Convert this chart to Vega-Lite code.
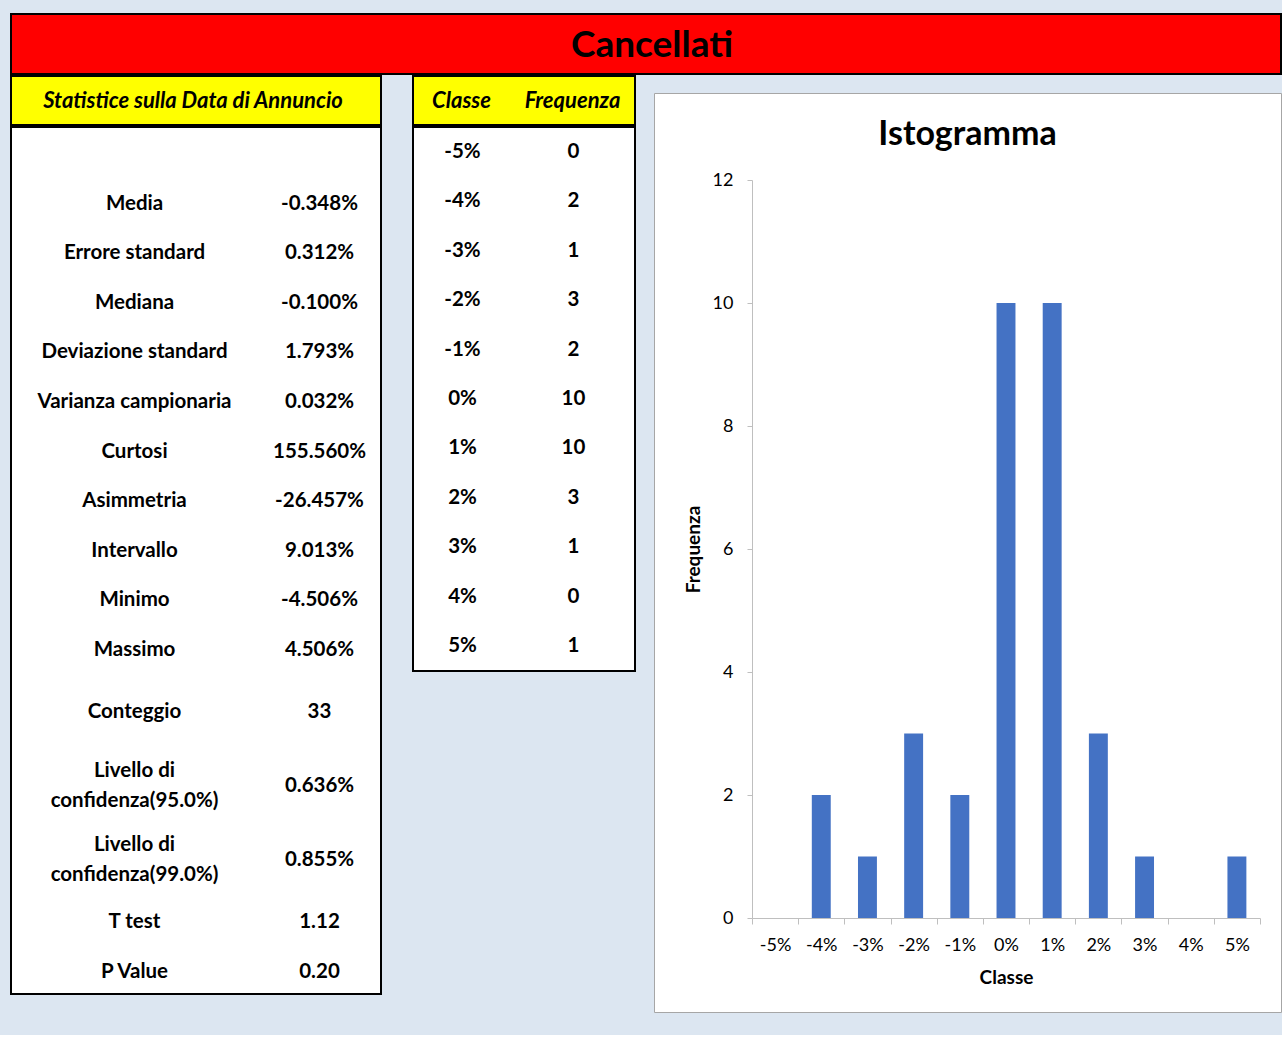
{
  "$schema": "https://vega.github.io/schema/vega-lite/v6.json",
  "background": "#dce6f1",
  "padding": {"left": 10, "top": 13, "right": 0, "bottom": 22},
  "config": {
    "font": "Lato",
    "view": {"stroke": null},
    "text": {"color": "#000000"}
  },
  "datasets": {
    "frequenze": [
      {"classe": "-5%", "frequenza": 0},
      {"classe": "-4%", "frequenza": 2},
      {"classe": "-3%", "frequenza": 1},
      {"classe": "-2%", "frequenza": 3},
      {"classe": "-1%", "frequenza": 2},
      {"classe": "0%", "frequenza": 10},
      {"classe": "1%", "frequenza": 10},
      {"classe": "2%", "frequenza": 3},
      {"classe": "3%", "frequenza": 1},
      {"classe": "4%", "frequenza": 0},
      {"classe": "5%", "frequenza": 1}
    ],
    "statistiche": [
      {"statistica": "Media", "valore": "-0.348%", "riga": 1.5},
      {"statistica": "Errore standard", "valore": "0.312%", "riga": 2.5},
      {"statistica": "Mediana", "valore": "-0.100%", "riga": 3.5},
      {"statistica": "Deviazione standard", "valore": "1.793%", "riga": 4.5},
      {"statistica": "Varianza campionaria", "valore": "0.032%", "riga": 5.5},
      {"statistica": "Curtosi", "valore": "155.560%", "riga": 6.5},
      {"statistica": "Asimmetria", "valore": "-26.457%", "riga": 7.5},
      {"statistica": "Intervallo", "valore": "9.013%", "riga": 8.5},
      {"statistica": "Minimo", "valore": "-4.506%", "riga": 9.5},
      {"statistica": "Massimo", "valore": "4.506%", "riga": 10.5},
      {"statistica": "Conteggio", "valore": "33", "riga": 11.75},
      {"statistica": "Livello di\nconfidenza(95.0%)", "valore": "0.636%", "riga": 13.25},
      {"statistica": "Livello di\nconfidenza(99.0%)", "valore": "0.855%", "riga": 14.75},
      {"statistica": "T test", "valore": "1.12", "riga": 16},
      {"statistica": "P Value", "valore": "0.20", "riga": 17}
    ]
  },
  "spacing": 0,
  "vconcat": [
    {
      "width": 1270,
      "height": 60,
      "view": {"fill": "#ff0000", "stroke": "#000000", "strokeWidth": 2},
      "data": {"values": [{"titolo": "Cancellati"}]},
      "mark": {"type": "text", "fontSize": 37, "fontWeight": "bold", "baseline": "middle", "dx": 6, "dy": 2},
      "encoding": {"text": {"field": "titolo", "type": "nominal"}}
    },
    {
      "spacing": 30,
      "hconcat": [
        {
          "spacing": 0,
          "vconcat": [
            {
              "width": 370,
              "height": 49,
              "view": {"fill": "#ffff00", "stroke": "#000000", "strokeWidth": 2},
              "data": {"values": [{"intestazione": "Statistice sulla Data di Annuncio"}]},
              "mark": {"type": "text", "fontSize": 22, "fontWeight": "bold", "fontStyle": "italic", "baseline": "middle", "dx": -3},
              "encoding": {"text": {"field": "intestazione", "type": "nominal"}}
            },
            {
              "width": 370,
              "height": 867,
              "view": {"fill": "#ffffff", "stroke": "#000000", "strokeWidth": 2},
              "data": {"name": "statistiche"},
              "transform": [{"fold": ["statistica", "valore"], "as": ["colonna", "testo"]}],
              "encoding": {
                "x": {"field": "colonna", "type": "nominal", "scale": {"domain": ["statistica", "valore"]}, "axis": null},
                "y": {"field": "riga", "type": "quantitative", "scale": {"domain": [-0.05, 17.45], "reverse": true}, "axis": null},
                "text": {"field": "testo", "type": "nominal"}
              },
              "layer": [
                {
                  "transform": [{"filter": "indexof(datum.testo, '\\n') < 0"}],
                  "mark": {"type": "text", "fontSize": 20.5, "fontWeight": "bold", "baseline": "middle", "dx": 31}
                },
                {
                  "transform": [{"filter": "indexof(datum.testo, '\\n') >= 0"}],
                  "mark": {"type": "text", "fontSize": 20.5, "fontWeight": "bold", "baseline": "middle", "lineBreak": "\n", "lineHeight": 30, "dx": 31, "dy": -15}
                }
              ]
            }
          ]
        },
        {
          "spacing": 17,
          "hconcat": [
            {
              "spacing": 0,
              "vconcat": [
                {
                  "width": 222,
                  "height": 49,
                  "view": {"fill": "#ffff00", "stroke": "#000000", "strokeWidth": 2},
                  "data": {"values": [{"colonna": "Classe"}, {"colonna": "Frequenza"}]},
                  "mark": {"type": "text", "fontSize": 22, "fontWeight": "bold", "fontStyle": "italic", "baseline": "middle", "dx": -7},
                  "encoding": {
                    "x": {"field": "colonna", "type": "nominal", "axis": null},
                    "text": {"field": "colonna", "type": "nominal"}
                  }
                },
                {
                  "width": 222,
                  "height": 544,
                  "view": {"fill": "#ffffff", "stroke": "#000000", "strokeWidth": 2},
                  "data": {"name": "frequenze"},
                  "transform": [{"fold": ["classe", "frequenza"], "as": ["colonna", "testo"]}],
                  "mark": {"type": "text", "fontSize": 20.5, "fontWeight": "bold", "baseline": "middle", "dx": -6},
                  "encoding": {
                    "x": {"field": "colonna", "type": "nominal", "scale": {"domain": ["classe", "frequenza"]}, "axis": null},
                    "y": {"field": "classe", "type": "ordinal", "sort": null, "axis": null},
                    "text": {"field": "testo", "type": "nominal"}
                  }
                }
              ]
            },
            {
              "spacing": 15,
              "vconcat": [
                {
                  "width": 627,
                  "height": 1,
                  "view": {"fill": "transparent", "stroke": null},
                  "data": {"values": []},
                  "mark": "rect",
                  "encoding": {}
                },
                {
                  "width": 627,
                  "height": 919,
                  "view": {"fill": "#ffffff", "stroke": "#a6a6a6", "strokeWidth": 1},
                  "title": {"text": "Istogramma", "fontSize": 34, "fontWeight": "bold", "color": "#000000", "anchor": "middle", "offset": -86, "baseline": "alphabetic"},
                  "data": {"name": "frequenze"},
                  "mark": {"type": "bar", "color": "#4472c4", "width": {"band": 0.41}},
                  "encoding": {
                    "x": {
                      "field": "classe", "type": "ordinal", "sort": null,
                      "scale": {"range": [98, 606], "paddingInner": 0, "paddingOuter": 0},
                      "axis": {
                        "title": "Classe", "offset": -94, "labelAngle": 0, "tickBand": "extent",
                        "tickSize": 6, "domainColor": "#bfbfbf", "tickColor": "#bfbfbf",
                        "labelFontSize": 18, "labelColor": "#000000", "labelPadding": 12,
                        "titleFontSize": 19, "titleFontWeight": "bold", "titleColor": "#000000", "titlePadding": 14
                      }
                    },
                    "y": {
                      "field": "frequenza", "type": "quantitative",
                      "scale": {"domain": [0, 12], "range": [825, 87]},
                      "axis": {
                        "title": "Frequenza", "offset": -98, "values": [0, 2, 4, 6, 8, 10, 12], "grid": false,
                        "tickSize": 5, "domainColor": "#bfbfbf", "tickColor": "#bfbfbf",
                        "labelFontSize": 18, "labelColor": "#000000", "labelPadding": 14,
                        "titleFontSize": 19, "titleFontWeight": "bold", "titleColor": "#000000", "titlePadding": 9
                      }
                    }
                  }
                }
              ]
            }
          ]
        }
      ]
    }
  ]
}
